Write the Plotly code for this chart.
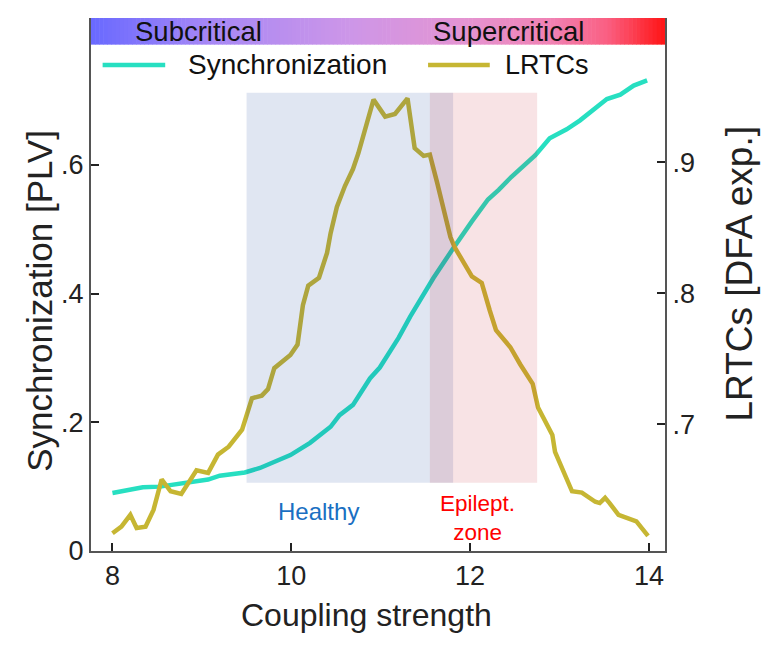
import numpy as np
import plotly.graph_objects as go

# ---------------- data ----------------
sync_x = [8.0, 8.34, 8.53, 8.76, 9.07, 9.20, 9.48, 9.65, 9.99, 10.21, 10.44, 10.54, 10.69,
          10.88, 10.99, 11.20, 11.33, 11.59, 11.70, 11.81, 12.02, 12.20, 12.32, 12.46,
          12.73, 12.89, 13.08, 13.23, 13.53, 13.68, 13.83, 13.98]
sync_y = [0.090, 0.099, 0.100, 0.104, 0.111, 0.117, 0.122, 0.129, 0.149, 0.168, 0.193, 0.211, 0.227,
          0.268, 0.285, 0.331, 0.364, 0.424, 0.448, 0.470, 0.512, 0.546, 0.561, 0.581,
          0.615, 0.641, 0.655, 0.669, 0.702, 0.709, 0.723, 0.731]

lrtc_x = [8.0, 8.10, 8.20, 8.27, 8.37, 8.46, 8.55, 8.65, 8.77, 8.85, 8.94, 9.07, 9.18, 9.30,
          9.45, 9.56, 9.67, 9.74, 9.81, 9.99, 10.07, 10.13, 10.19, 10.31, 10.40, 10.44, 10.51,
          10.60, 10.69, 10.75, 10.92, 11.05, 11.16, 11.30, 11.38, 11.48, 11.55, 11.63, 11.69,
          11.78, 11.83, 11.89, 12.02, 12.13, 12.17, 12.22, 12.29, 12.45, 12.56, 12.70, 12.76,
          12.92, 12.95, 13.09, 13.14, 13.25, 13.40, 13.45, 13.51, 13.56, 13.66, 13.86, 13.99]
lrtc_y = [0.617, 0.622, 0.631, 0.621, 0.622, 0.635, 0.658, 0.649, 0.647, 0.656, 0.665, 0.663, 0.677, 0.683,
          0.696, 0.720, 0.722, 0.727, 0.743, 0.753, 0.761, 0.791, 0.806, 0.812, 0.831, 0.846, 0.866,
          0.882, 0.895, 0.907, 0.948, 0.935, 0.937, 0.949, 0.911, 0.905, 0.906, 0.885, 0.869,
          0.843, 0.835, 0.828, 0.813, 0.808, 0.798, 0.787, 0.772, 0.759, 0.746, 0.731, 0.713,
          0.692, 0.679, 0.658, 0.649, 0.648, 0.641, 0.640, 0.644, 0.640, 0.631, 0.626, 0.615]

healthy_zone = [9.50, 11.81]
epileptic_zone = [11.55, 12.75]
zone_y = [0.106, 0.712]

x_ticks = [8, 10, 12, 14]
left_ticks = [0, 0.2, 0.4, 0.6]
left_ticktext = ["0", ".2", ".4", ".6"]
right_ticks = [0.7, 0.8, 0.9]
right_ticktext = [".7", ".8", ".9"]

# ---------------- styles ----------------
FONT = "Liberation Sans, Arial, sans-serif"
SYNC_C = "#27DFC1"
LRTC_C = "#C6B633"
X_RANGE = [7.76, 14.18]
YL_RANGE = [0, 0.828]
YR_RANGE = [0.6034, 1.0103]

fig = go.Figure()
fig.add_trace(go.Scatter(x=sync_x, y=sync_y, mode="lines", name="Synchronization",
                         line=dict(color=SYNC_C, width=4.5), yaxis="y"))
fig.add_trace(go.Scatter(x=lrtc_x, y=lrtc_y, mode="lines", name="LRTCs",
                         line=dict(color=LRTC_C, width=4.5), yaxis="y2"))

shapes = []
# zones (semi-transparent, drawn above the lines)
shapes.append(dict(type="rect", xref="x", yref="y", x0=healthy_zone[0], x1=healthy_zone[1],
                   y0=zone_y[0], y1=zone_y[1], fillcolor="rgba(0,50,150,0.12)",
                   line=dict(width=0), layer="above"))
shapes.append(dict(type="rect", xref="x", yref="y", x0=epileptic_zone[0], x1=epileptic_zone[1],
                   y0=zone_y[0], y1=zone_y[1], fillcolor="rgba(190,0,20,0.11)",
                   line=dict(width=0), layer="above"))

# gradient bar at the top of the axes
stops = [0.0, 0.2, 0.45, 0.65, 0.8, 0.9, 1.0]
cols = np.array([[105, 105, 255], [165, 135, 245], [205, 150, 232], [228, 148, 210],
                 [240, 130, 180], [250, 95, 130], [255, 20, 20]], dtype=float)
N = 140
gx0, gx1 = 0.0, 1.0
gy0, gy1 = 0.950, 1.0
for i in range(N):
    t = (i + 0.5) / N
    c = [np.interp(t, stops, cols[:, k]) for k in range(3)]
    shapes.append(dict(type="rect", xref="paper", yref="paper",
                       x0=gx0 + (gx1 - gx0) * i / N, x1=min(gx1, gx0 + (gx1 - gx0) * (i + 1) / N + 0.001),
                       y0=gy0, y1=gy1, fillcolor="rgb(%d,%d,%d)" % tuple(int(round(v)) for v in c),
                       line=dict(width=0), layer="above"))

# legend swatches
shapes.append(dict(type="line", xref="x", yref="paper", x0=7.89, x1=8.59, y0=0.912, y1=0.912,
                   line=dict(color=SYNC_C, width=4.5)))
shapes.append(dict(type="line", xref="x", yref="paper", x0=11.53, x1=12.22, y0=0.912, y1=0.912,
                   line=dict(color=LRTC_C, width=4.5)))

annotations = [
    dict(text="Subcritical", x=8.96, y=0.9756, xref="x", yref="paper", showarrow=False,
         xanchor="center", yanchor="middle", font=dict(size=27.5, color="#111111", family=FONT)),
    dict(text="Supercritical", x=12.43, y=0.9756, xref="x", yref="paper", showarrow=False,
         xanchor="center", yanchor="middle", font=dict(size=27.5, color="#111111", family=FONT)),
    dict(text="Synchronization", x=8.82, y=0.912, xref="x", yref="paper", showarrow=False,
         xanchor="left", yanchor="middle", font=dict(size=28, color="#111111", family=FONT)),
    dict(text="LRTCs", x=12.37, y=0.912, xref="x", yref="paper", showarrow=False,
         xanchor="left", yanchor="middle", font=dict(size=27, color="#111111", family=FONT)),
    dict(text="Healthy", x=10.3, y=0.061, xref="x", yref="y", showarrow=False,
         xanchor="center", yanchor="middle", font=dict(size=24, color="#1A6FC2", family=FONT)),
    dict(text="Epilept.<br>zone", x=12.08, y=0.052, xref="x", yref="y", showarrow=False,
         xanchor="center", yanchor="middle", font=dict(size=22.5, color="#FF0000", family=FONT)),
    dict(text="Synchronization [PLV]", x=-0.09, y=0.47, xref="paper", yref="paper",
         showarrow=False, textangle=-90, xanchor="center", yanchor="middle",
         font=dict(size=35, color="#222222", family=FONT)),
    dict(text="LRTCs [DFA exp.]", x=1.13, y=0.52, xref="paper", yref="paper",
         showarrow=False, textangle=-90, xanchor="center", yanchor="middle",
         font=dict(size=37, color="#222222", family=FONT)),
    dict(text="Coupling strength", x=0.48, y=-0.12, xref="paper", yref="paper",
         showarrow=False, xanchor="center", yanchor="middle",
         font=dict(size=32, color="#222222", family=FONT)),
]

axis_common = dict(showgrid=False, zeroline=False, ticks="inside", ticklen=8, tickwidth=1.5,
                   tickcolor="#222222", showline=True, linecolor="#555555", linewidth=2,
                   tickfont=dict(size=27, color="#222222", family=FONT))

fig.update_layout(
    width=776, height=649,
    margin=dict(l=91, r=111, t=18, b=98),
    paper_bgcolor="white", plot_bgcolor="white",
    showlegend=False,
    shapes=shapes, annotations=annotations,
    xaxis=dict(range=X_RANGE, tickvals=x_ticks, **axis_common),
    yaxis=dict(range=YL_RANGE, tickvals=left_ticks, ticktext=left_ticktext, **axis_common),
    yaxis2=dict(range=YR_RANGE, tickvals=right_ticks, ticktext=right_ticktext,
                overlaying="y", side="right", **axis_common),
)

fig.write_html("out.html")
